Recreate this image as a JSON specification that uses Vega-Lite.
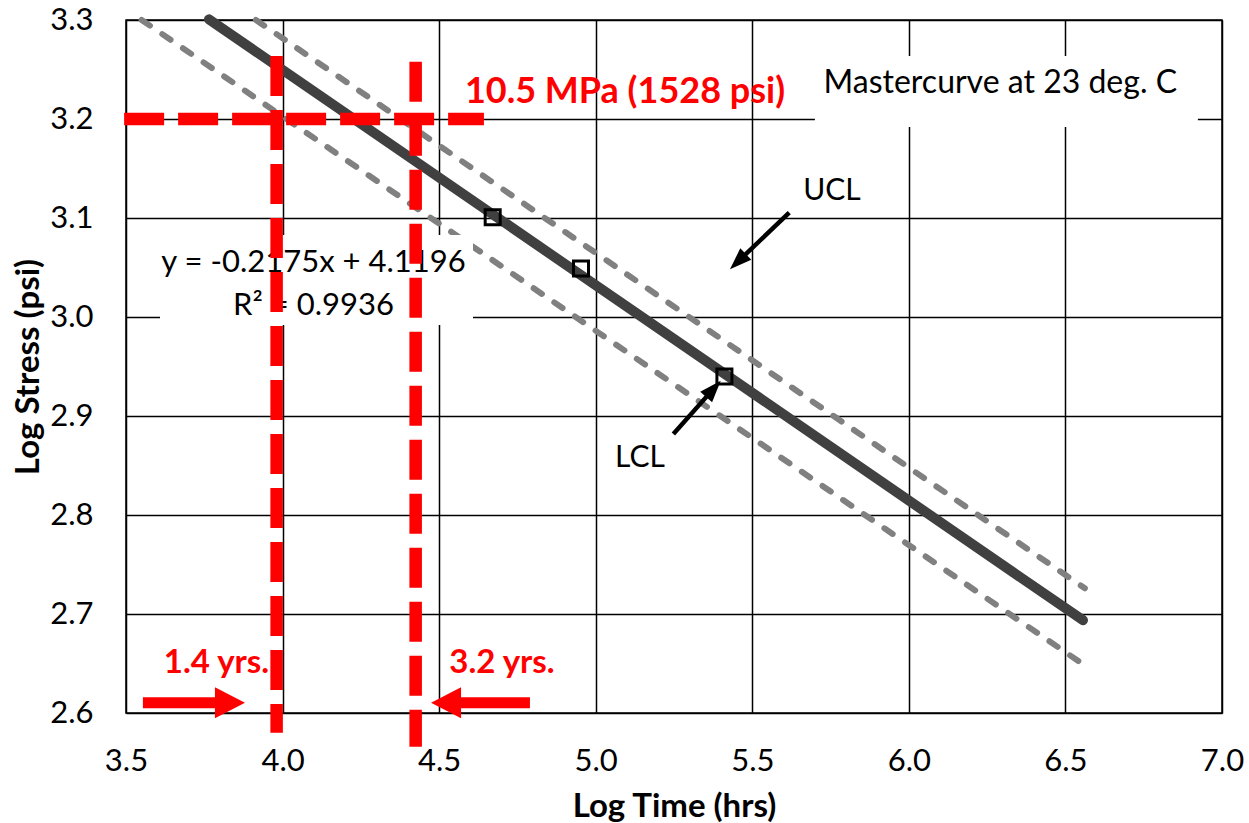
{
  "$schema": "https://vega.github.io/schema/vega-lite/v6.json",
  "width": 1096,
  "height": 693,
  "autosize": {"type": "none"},
  "padding": {"left": 126, "top": 20, "right": 27, "bottom": 110},
  "background": "white",
  "config": {
    "view": {"stroke": "#000", "strokeWidth": 1.5},
    "axis": {
      "grid": true, "gridColor": "#000", "gridWidth": 1.5, "gridOpacity": 1,
      "domain": false, "ticks": false,
      "labelFont": "Lato", "labelFontSize": 31, "labelColor": "#000", "labelPadding": 33,
      "labelFlush": false, "labelOverlap": false,
      "titleFont": "Lato", "titleFontSize": 33, "titleFontWeight": "bold", "titleColor": "#000"
    }
  },
  "datasets": {
    "bands": [
      {"s": "lower", "x": 3.55, "y": 3.3},
      {"s": "lower", "x": 6.562, "y": 2.648},
      {"s": "upper", "x": 3.915, "y": 3.3},
      {"s": "upper", "x": 6.562, "y": 2.726}
    ],
    "fit": [
      {"x": 3.765, "y": 3.3007},
      {"x": 6.556, "y": 2.6937}
    ],
    "pts": [
      {"x": 4.671, "y": 3.1007},
      {"x": 4.953, "y": 3.049},
      {"x": 5.411, "y": 2.94}
    ],
    "boxes": [
      {"x": 5.7, "x2": 6.923, "y": 3.2636, "y2": 3.1919},
      {"x": 3.6086, "x2": 4.6081, "y": 3.0828, "y2": 2.9919}
    ],
    "red": [
      {"x": 3.494, "y": 3.2, "x2": 4.643, "y2": 3.2},
      {"x": 3.981, "y": 3.2636, "x2": 3.981, "y2": 2.58},
      {"x": 4.425, "y": 3.2578, "x2": 4.425, "y2": 2.566}
    ],
    "redShafts": [
      {"x": 3.554, "y": 2.6104, "x2": 3.8, "y2": 2.6104},
      {"x": 4.79, "y": 2.6104, "x2": 4.545, "y2": 2.6104}
    ],
    "headR": [{"x": 3.832, "y": 2.6104}],
    "headL": [{"x": 4.522, "y": 2.6104}],
    "blkShafts": [
      {"x": 5.618, "y": 3.1054, "x2": 5.454, "y2": 3.0559},
      {"x": 5.248, "y": 2.8818, "x2": 5.376, "y2": 2.9274}
    ],
    "headUCL": [{"x": 5.454, "y": 3.0559}],
    "headLCL": [{"x": 5.376, "y": 2.9274}],
    "texts": [
      {"g": "eq", "t": "y = -0.2175x + 4.1196", "x": 4.0988, "y": 3.0455},
      {"g": "eq", "t": "R² = 0.9936", "x": 4.0988, "y": 3.002},
      {"g": "mc", "t": "Mastercurve at 23 deg. C", "x": 6.292, "y": 3.226},
      {"g": "blk", "t": "UCL", "x": 5.7546, "y": 3.1182},
      {"g": "blk", "t": "LCL", "x": 5.1414, "y": 2.8485},
      {"g": "redS", "t": "1.4 yrs.", "x": 3.789, "y": 2.6404},
      {"g": "redS", "t": "3.2 yrs.", "x": 4.7007, "y": 2.6404},
      {"g": "redB", "t": "10.5 MPa (1528 psi)", "x": 5.0935, "y": 3.2159}
    ]
  },
  "encoding": {
    "x": {
      "field": "x", "type": "quantitative",
      "scale": {"domain": [3.5, 7.0], "nice": false, "zero": false},
      "title": "Log Time (hrs)",
      "axis": {"values": [3.5, 4.0, 4.5, 5.0, 5.5, 6.0, 6.5, 7.0], "format": ".1f", "titlePadding": 14}
    },
    "y": {
      "field": "y", "type": "quantitative",
      "scale": {"domain": [2.6, 3.3], "nice": false, "zero": false},
      "title": "Log Stress (psi)",
      "axis": {"values": [2.6, 2.7, 2.8, 2.9, 3.0, 3.1, 3.2, 3.3], "format": ".1f", "titlePadding": 4}
    }
  },
  "layer": [
    {
      "data": {"name": "bands"},
      "mark": {"type": "line", "color": "#808080", "strokeWidth": 6, "strokeDash": [10, 15], "strokeCap": "round"},
      "encoding": {"detail": {"field": "s"}}
    },
    {
      "data": {"name": "fit"},
      "mark": {"type": "line", "color": "#404040", "strokeWidth": 10, "strokeCap": "round"},
      "encoding": {}
    },
    {
      "data": {"name": "pts"},
      "mark": {"type": "point", "shape": "square", "size": 225, "filled": false, "stroke": "#000", "strokeWidth": 3, "opacity": 1}
    },
    {
      "data": {"name": "boxes"},
      "mark": {"type": "rect", "fill": "white", "stroke": null},
      "encoding": {"x2": {"field": "x2"}, "y2": {"field": "y2"}}
    },
    {
      "data": {"name": "texts"},
      "transform": [{"filter": "datum.g == 'blk'"}],
      "mark": {"type": "text", "font": "Lato", "fontSize": 30, "color": "#000", "align": "center", "baseline": "alphabetic"},
      "encoding": {"text": {"field": "t"}}
    },
    {
      "data": {"name": "texts"},
      "transform": [{"filter": "datum.g == 'eq'"}],
      "mark": {"type": "text", "font": "Lato", "fontSize": 31, "color": "#000", "align": "center", "baseline": "alphabetic"},
      "encoding": {"text": {"field": "t"}}
    },
    {
      "data": {"name": "texts"},
      "transform": [{"filter": "datum.g == 'mc'"}],
      "mark": {"type": "text", "font": "Lato", "fontSize": 32, "color": "#000", "align": "center", "baseline": "alphabetic"},
      "encoding": {"text": {"field": "t"}}
    },
    {
      "data": {"name": "red"},
      "mark": {"type": "rule", "color": "#FF0000", "strokeWidth": 12.5, "strokeDash": [40, 14], "strokeCap": "butt"},
      "encoding": {"x2": {"field": "x2"}, "y2": {"field": "y2"}}
    },
    {
      "data": {"name": "redShafts"},
      "mark": {"type": "rule", "color": "#FF0000", "strokeWidth": 11, "strokeCap": "butt"},
      "encoding": {"x2": {"field": "x2"}, "y2": {"field": "y2"}}
    },
    {
      "data": {"name": "headR"},
      "mark": {"type": "point", "shape": "M1,0L-1,-1.03L-1,1.03Z", "size": 900, "filled": true, "fill": "#FF0000", "strokeWidth": 0, "opacity": 1}
    },
    {
      "data": {"name": "headL"},
      "mark": {"type": "point", "shape": "M-1,0L1,-1.03L1,1.03Z", "size": 900, "filled": true, "fill": "#FF0000", "strokeWidth": 0, "opacity": 1}
    },
    {
      "data": {"name": "blkShafts"},
      "mark": {"type": "rule", "color": "#000", "strokeWidth": 4.5, "strokeCap": "butt"},
      "encoding": {"x2": {"field": "x2"}, "y2": {"field": "y2"}}
    },
    {
      "data": {"name": "headUCL"},
      "mark": {"type": "point", "shape": "M1,0L-1,-0.72L-1,0.72Z", "size": 484, "angle": 136, "filled": true, "fill": "#000", "strokeWidth": 0, "opacity": 1}
    },
    {
      "data": {"name": "headLCL"},
      "mark": {"type": "point", "shape": "M1,0L-1,-0.72L-1,0.72Z", "size": 484, "angle": 311.6, "filled": true, "fill": "#000", "strokeWidth": 0, "opacity": 1}
    },
    {
      "data": {"name": "texts"},
      "transform": [{"filter": "datum.g == 'redS'"}],
      "mark": {"type": "text", "font": "Lato", "fontSize": 33, "fontWeight": "bold", "color": "#FF0000", "align": "center", "baseline": "alphabetic"},
      "encoding": {"text": {"field": "t"}}
    },
    {
      "data": {"name": "texts"},
      "transform": [{"filter": "datum.g == 'redB'"}],
      "mark": {"type": "text", "font": "Lato", "fontSize": 36, "fontWeight": "bold", "color": "#FF0000", "align": "center", "baseline": "alphabetic"},
      "encoding": {"text": {"field": "t"}}
    }
  ]
}
